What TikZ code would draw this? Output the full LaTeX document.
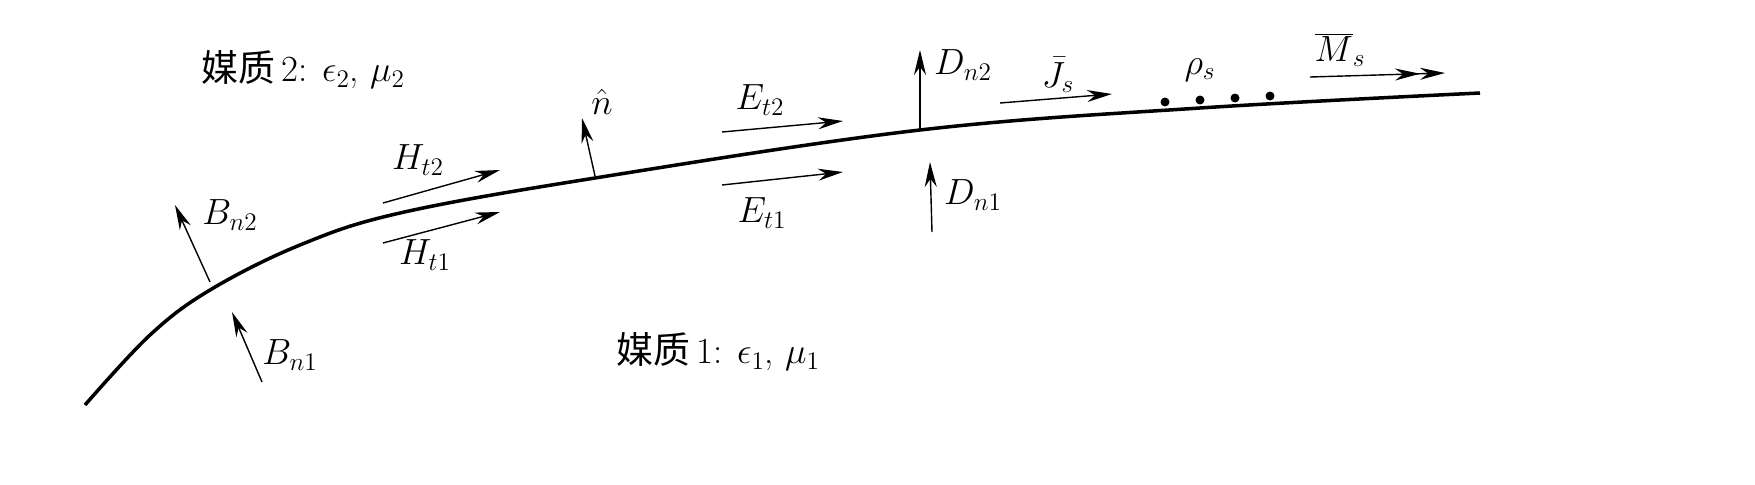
\documentclass[tikz,border=0pt]{standalone}
\usepackage{fontspec}
\newfontfamily\cjk{Noto Sans CJK SC}
\usetikzlibrary{arrows.meta}
\tikzset{vec/.style={thick,-{Stealth[length=5mm,width=2.4mm]}},
lbl/.style={font=\fontsize{21}{25}\selectfont}}
\begin{document}
\begin{tikzpicture}[x=0.02cm,y=-0.02cm]
\useasboundingbox (0,0) rectangle (1755,484);

% interface
\draw[line width=2pt] plot[smooth,tension=0.6] coordinates {(85,405) (150,335) (210,290) (300,245) (400,213) (595,178) (920,130) (1200,108) (1480,93)};

% normal components
\coordinate (bn2a) at (210,282); \coordinate (bn2b) at (175,205);
\coordinate (bn1a) at (262,382); \coordinate (bn1b) at (232,312);
\coordinate (na) at (595,176); \coordinate (nb) at (582,118);
\coordinate (dn2a) at (920,130); \coordinate (dn2b) at (920,50);
\coordinate (dn1a) at (932,232); \coordinate (dn1b) at (930,162);
\draw[vec] (bn2a) -- (bn2b);
\draw[vec] (bn1a) -- (bn1b);
\draw[vec] (na) -- (nb);
\draw[vec] (dn2a) -- (dn2b);
\draw[vec] (dn1a) -- (dn1b);

% tangential components
\coordinate (ht2a) at (383,203); \coordinate (ht2b) at (500,170);
\coordinate (ht1a) at (383,243); \coordinate (ht1b) at (500,212);
\coordinate (et2a) at (722,132); \coordinate (et2b) at (843,121);
\coordinate (et1a) at (722,185); \coordinate (et1b) at (843,172);
\coordinate (jsa) at (1000,103); \coordinate (jsb) at (1112,94);
\coordinate (msa) at (1310,77); \coordinate (msb) at (1445,73);
\draw[vec] (ht2a) -- (ht2b);
\draw[vec] (ht1a) -- (ht1b);
\draw[vec] (et2a) -- (et2b);
\draw[vec] (et1a) -- (et1b);
\draw[vec] (jsa) -- (jsb);
\draw[thick,-{Stealth[length=5mm,width=2.4mm] Stealth[length=5mm,width=2.4mm]}] (msa) -- (msb);

% surface charge
\foreach \px/\py in {1165/102,1200/100,1235/98,1270/96}
  \fill (\px,\py) circle (4.5);

% labels
\node[lbl] (lbn2) at (230,215) {$B_{n2}$};
\node[lbl] (lbn1) at (290,355) {$B_{n1}$};
\node[lbl] (lht2) at (418,160) {$H_{t2}$};
\node[lbl] (lht1) at (425,255) {$H_{t1}$};
\node[lbl] (ln) at (602,102) {$\hat{n}$};
\node[lbl] (let2) at (760,100) {$E_{t2}$};
\node[lbl] (let1) at (762,213) {$E_{t1}$};
\node[lbl,anchor=west] (ldn2) at (928,65) {$D_{n2}$};
\node[lbl,anchor=west] (ldn1) at (938,195) {$D_{n1}$};
\node[lbl] (ljs) at (1058,75) {$\bar{J}_s$};
\node[lbl] (lrho) at (1200,70) {$\rho_s$};
\node[lbl] (lms) at (1340,50) {$\overline{M}_s$};
\node[lbl,anchor=west] (med2) at (195,70) {{\cjk 媒质}\,2: $\epsilon_2$, $\mu_2$};
\node[lbl,anchor=west] (med1) at (610,352) {{\cjk 媒质}\,1: $\epsilon_1$, $\mu_1$};
\end{tikzpicture}
\end{document}
